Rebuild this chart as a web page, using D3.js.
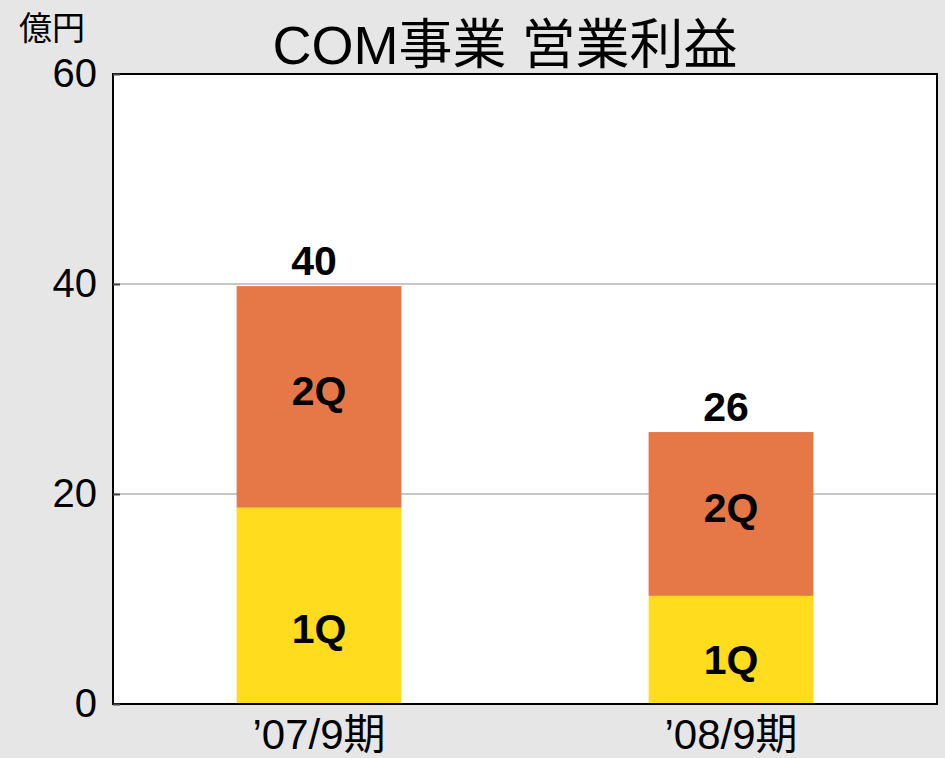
<!DOCTYPE html>
<html><head><meta charset="utf-8">
<script src="https://cdn.jsdelivr.net/npm/d3@7"></script>
<style>
html,body{margin:0;padding:0;background:#e6e6e6;}
svg{display:block;}
</style></head>
<body>
<script>
const categories = ["’07/9期", "’08/9期"];
const q1Values = [18.7, 10.3];
const q2Values = [21.1, 15.6];
const totalLabels = ["40", "26"];
const yTicks = [0, 20, 40, 60];
const seriesNames = ["1Q", "2Q"];
const colors = ["#FFDC1E", "#E67848"];

const W = 945, H = 758;
const m = {left: 113, right: 8, top: 74, bottom: 54};
const svg = d3.select("body").append("svg").attr("width", W).attr("height", H);
svg.append("rect").attr("width", W).attr("height", H).attr("fill", "#e6e6e6");

const x = d3.scaleBand().domain(categories).range([m.left, W - m.right]).paddingInner(0.6).paddingOuter(0.3);
const y = d3.scaleLinear().domain([0, 60]).range([H - m.bottom, m.top]);

svg.append("rect").attr("x", m.left).attr("y", m.top)
  .attr("width", W - m.right - m.left).attr("height", H - m.bottom - m.top)
  .attr("fill", "#fff");

// gridlines
svg.append("g").selectAll("line").data(yTicks.filter(d => d > 0 && d < 60)).join("line")
  .attr("x1", m.left).attr("x2", W - m.right)
  .attr("y1", d => y(d)).attr("y2", d => y(d))
  .attr("stroke", "#b4b4b4").attr("stroke-width", 1.5);

// stacked data
const data = categories.map((c, i) => ({cat: c, q1: q1Values[i], q2: q2Values[i]}));
const stack = d3.stack().keys(["q1", "q2"])(data);

stack.forEach((layer, li) => {
  svg.append("g").selectAll("rect").data(layer).join("rect")
    .attr("x", d => x(d.data.cat))
    .attr("width", x.bandwidth())
    .attr("y", d => y(d[1]))
    .attr("height", d => y(d[0]) - y(d[1]))
    .attr("fill", colors[li]);
});

// segment labels
stack.forEach((layer, li) => {
  svg.append("g").selectAll("text").data(layer).join("text")
    .attr("x", d => x(d.data.cat) + x.bandwidth() / 2)
    .attr("y", d => y(li === 0 ? d[0] + (d[1] - d[0]) * 0.35 : (d[0] + d[1]) / 2))
    .attr("dy", "0.19em")
    .attr("text-anchor", "middle")
    .attr("font-family", "Liberation Sans, Arial, sans-serif")
    .attr("font-weight", "bold").attr("font-size", 41)
    .attr("fill", "#000")
    .text(seriesNames[li]);
});

// totals
svg.append("g").selectAll("text").data(data).join("text")
  .attr("x", d => x(d.cat) + x.bandwidth() / 2 - 5)
  .attr("y", d => y(d.q1 + d.q2) - 11)
  .attr("text-anchor", "middle")
  .attr("font-family", "Liberation Sans, Arial, sans-serif")
  .attr("font-weight", "bold").attr("font-size", 41)
  .attr("fill", "#000")
  .text((d, i) => totalLabels[i]);

// frame
svg.append("rect").attr("x", m.left).attr("y", m.top)
  .attr("width", W - m.right - m.left).attr("height", H - m.bottom - m.top)
  .attr("fill", "none").attr("stroke", "#000").attr("stroke-width", 2);

// y axis
const yAxis = svg.append("g").attr("transform", `translate(${m.left},0)`)
  .call(d3.axisLeft(y).tickValues(yTicks).tickSize(-7).tickPadding(16));
yAxis.select(".domain").remove();
yAxis.selectAll("line").attr("stroke", "#444").attr("stroke-width", 2);
yAxis.selectAll("text").attr("font-family", "Liberation Sans, Arial, sans-serif")
  .attr("font-size", 40).attr("fill", "#000");

// x axis
const xAxis = svg.append("g").attr("transform", `translate(0,${H - m.bottom})`)
  .call(d3.axisBottom(x).tickSize(0).tickPadding(15));
xAxis.select(".domain").remove();
xAxis.selectAll("text").attr("font-family", "Liberation Sans, 'Noto Sans CJK JP', sans-serif")
  .attr("font-size", 42).attr("fill", "#000").attr("dy", "0.72em");

// title
svg.append("text").attr("x", 505).attr("y", 64).attr("text-anchor", "middle")
  .attr("font-family", "Liberation Sans, 'Noto Sans CJK JP', sans-serif")
  .attr("font-size", 54).attr("fill", "#000").text("COM事業 営業利益");

// unit
svg.append("text").attr("x", 19).attr("y", 40)
  .attr("font-family", "'Noto Sans CJK JP', sans-serif")
  .attr("font-size", 33).attr("fill", "#000").text("億円");
</script>
</body></html>
